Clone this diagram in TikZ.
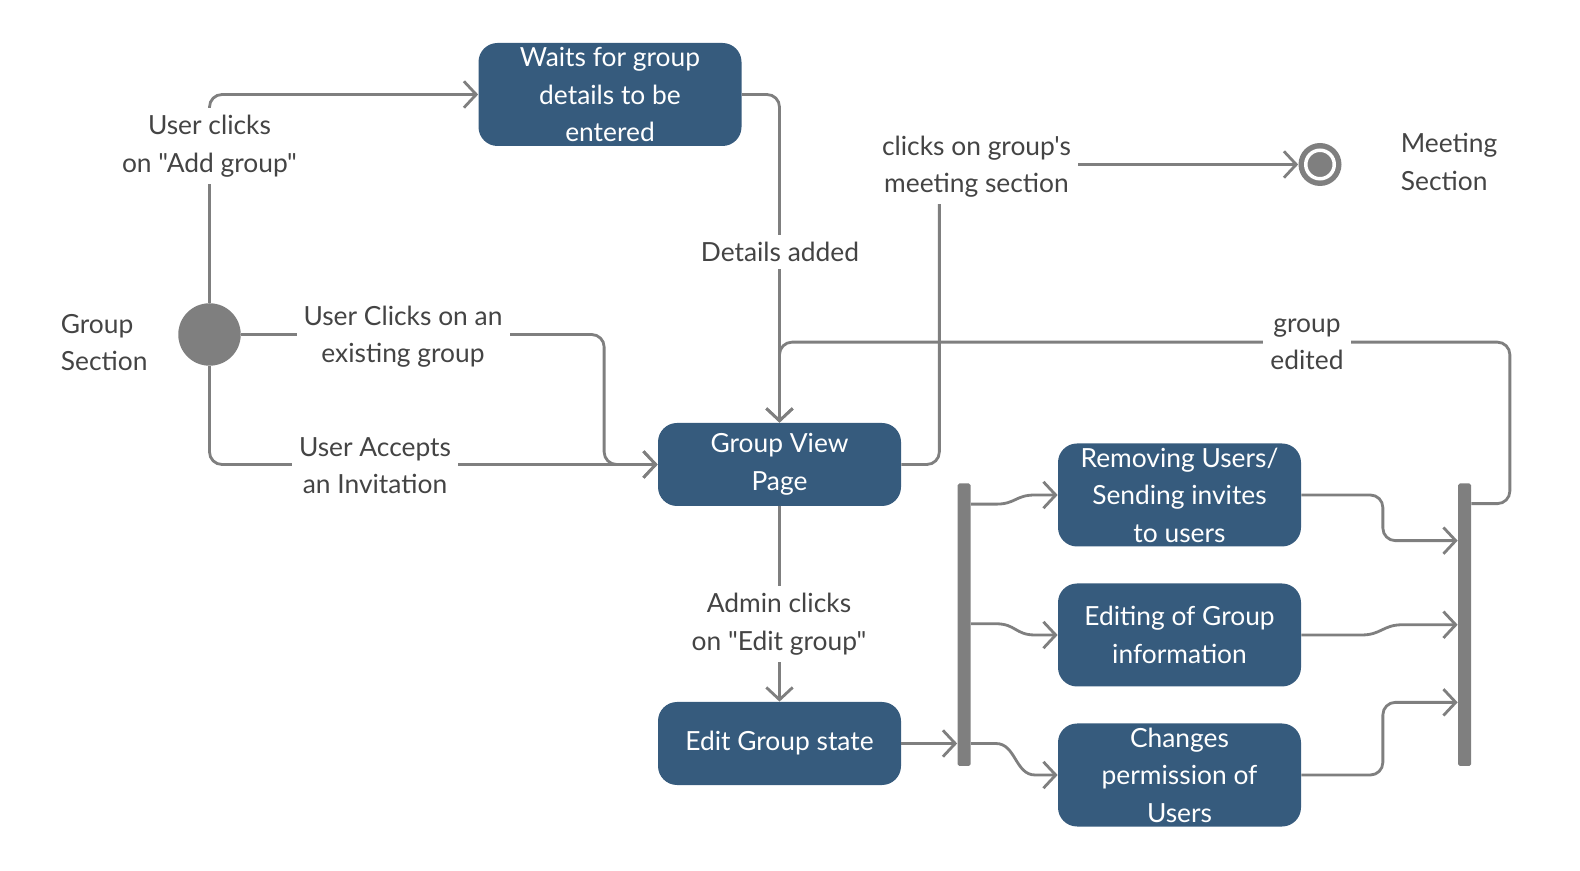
\documentclass[tikz,border=0pt]{standalone}
\usepackage{fontspec}
\setmainfont{Lato}[Ligatures=TeXOff]
\usetikzlibrary{arrows.meta, positioning, calc}

\newcommand{\diagfont}{\fontsize{15}{21.3}\selectfont}

\begin{document}
\begin{tikzpicture}[
    every node/.style={font=\diagfont},
]

% ---------------------------------------------------------------- colours
\definecolor{boxblue}{HTML}{365B7D}   % activity states
\definecolor{linegray}{HTML}{7F7F7F}  % transitions, bars, pseudo states
\definecolor{textgray}{HTML}{444444}

% ---------------------------------------------------------------- styles
\tikzset{
    state/.style={
        rectangle, rounded corners=0.38cm, fill=boxblue, text=white,
        align=center, minimum width=4.86cm, minimum height=1.66cm,
        inner sep=2pt,
    },
    tallstate/.style={state, minimum height=2.06cm},
    syncbar/.style={
        rectangle, rounded corners=1pt, fill=linegray, inner sep=0pt,
        minimum width=0.26cm, minimum height=5.65cm,
    },
    flow/.style={
        draw=linegray, line width=1.6pt, rounded corners=0.25cm,
        -{Straight Barb[length=7pt, width=15pt, line width=1.6pt]},
    },
    wave/.style={flow, sharp corners},
    guard/.style={fill=white, text=textgray, align=center, inner sep=4pt},
    note/.style={text=textgray, align=left, inner sep=0pt},
}

\useasboundingbox (0, 0) rectangle (31.6, 17.4);

% ================================================================
% GEOMETRY (1 cm = 50 px of the drawing)
%   start column x = 4.19, group view column x = 15.59
%   fork bar x = 19.28, branch states x = 23.59, join bar x = 29.29
% ================================================================

% ---------------------------------------------------------------- states
\node[circle, fill=linegray, minimum size=1.25cm, inner sep=0pt]
    (init) at (4.19, 10.71) {};
\node[note, anchor=west] (groupsec) at (1.21, 10.55) {Group\\Section};

\node[tallstate, minimum width=5.26cm] (waits) at (12.20, 15.51)
    {Waits for group\\details to be\\entered};
\node[state] (gv) at (15.59, 8.11) {Group View\\Page};
\node[state] (edit) at (15.59, 2.53) {Edit Group state};

\node[syncbar] (fork) at (19.28, 4.905) {};
\node[tallstate] (rem) at (23.59, 7.50) {Removing Users/\\Sending invites\\to users};
\node[tallstate] (edi) at (23.59, 4.70) {Editing of Group\\information};
\node[tallstate] (chg) at (23.59, 1.90) {Changes\\permission of\\Users};
\node[syncbar] (join) at (29.29, 4.905) {};

% final state of the meeting section
\node[circle, fill=linegray, minimum size=0.86cm, inner sep=0pt]
    (final) at (26.40, 14.11) {};
\node[circle, fill=linegray, draw=white, line width=0.07cm,
    minimum size=0.57cm, inner sep=0pt] (finaldot) at (final) {};
\node[note, anchor=west] (meetsec) at (28.01, 14.16) {Meeting\\Section};

% ---------------------------------------------------------------- transitions
\draw[flow] (init.north) |- (waits.west);
\draw[flow] (init.east) -| ([xshift=-1.07cm]gv.west) -- (gv.west);
\draw[flow] (init.south) |- (gv.west);
\draw[flow] (waits.east) -| (gv.north);
\draw[flow] (gv.east) -- ++(0.76, 0) |- (final.west);
\draw[flow] ([yshift=-0.41cm]join.north east) -- ++(0.77, 0)
    |- ([yshift=1.61cm]gv.north) -- (gv.north);
\draw[flow] (gv.south) -- (edit.north);
\draw[flow] (edit.east) -- (edit.east -| fork.west);

% fork
\draw[wave] ([yshift=-0.42cm]fork.north east) -- ++(0.5, 0)
    .. controls +(0.4, 0) and +(-0.4, 0) .. ([xshift=-0.45cm]rem.west)
    -- (rem.west);
\draw[wave] ([yshift=0.02cm]fork.east) -- ++(0.5, 0)
    .. controls +(0.4, 0) and +(-0.4, 0) .. ([xshift=-0.45cm]edi.west)
    -- (edi.west);
\draw[wave] (edit.east -| fork.east) -- ++(0.5, 0)
    .. controls +(0.4, 0) and +(-0.4, 0) .. ([xshift=-0.45cm]chg.west)
    -- (chg.west);

% join
\draw[flow] (rem.east) -- ++(1.63, 0) |- ([yshift=-1.15cm]join.north west);
\draw[wave] (edi.east) -- ++(1.2, 0)
    .. controls +(0.4, 0) and +(-0.4, 0) .. ([xshift=-1.1cm]join.west)
    -- (join.west);
\draw[flow] (chg.east) -- ++(1.63, 0) |- ([yshift=1.28cm]join.south west);

% ---------------------------------------------------------------- guards
\node[guard] (addg) at (4.19, 14.48) {User clicks\\on "Add group"};
\node[guard] (exist) at (8.06, 10.67) {User Clicks on an\\existing group};
\node[guard] (accept) at (7.50, 8.09) {User Accepts\\an Invitation};
\node[guard] (added) at (15.60, 12.36) {Details added};
\node[guard] (meet) at (19.53, 14.07) {clicks on group's\\meeting section};
\node[guard] (edited) at (26.14, 10.51) {group\\edited};
\node[guard] (admin) at (15.58, 4.92) {Admin clicks\\on "Edit group"};

\end{tikzpicture}
\end{document}
